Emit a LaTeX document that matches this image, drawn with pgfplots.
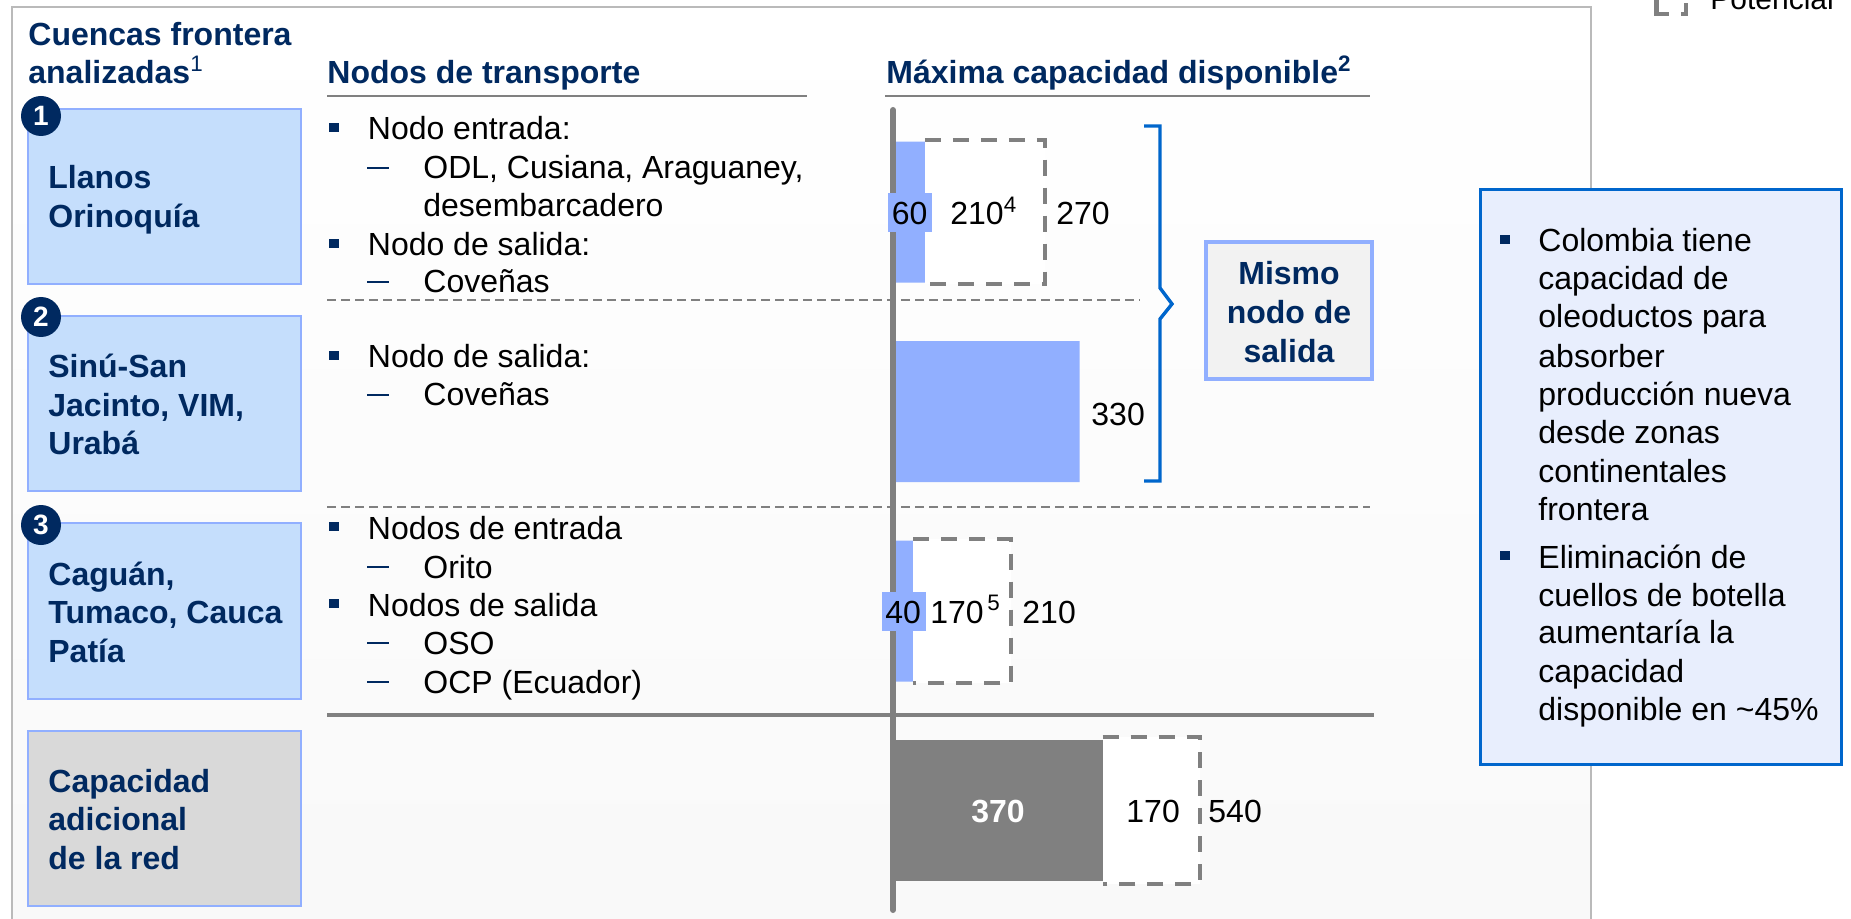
\documentclass[border=0pt]{standalone}
\usepackage{fontspec}
\usepackage{pgfplots}
\pgfplotsset{compat=1.18}
\setmainfont{Liberation Sans}
\definecolor{navy}{RGB}{0,41,96}
\definecolor{barblue}{RGB}{145,175,255}
\definecolor{boxblue}{RGB}{197,222,252}
\definecolor{midgray}{RGB}{128,128,128}
\definecolor{boxgray}{RGB}{217,217,217}
\definecolor{frameblue}{RGB}{0,102,204}
\definecolor{callfill}{RGB}{232,238,253}

% text helpers: x and baseline in picture pixels
\newcommand{\fs}{\fontsize{16}{19.3}\selectfont}
\newcommand{\tb}[3]{\node[anchor=base west,inner sep=0pt,text=navy,font=\fs\bfseries] at (#1,#2) {#3};}
\newcommand{\tn}[3]{\node[anchor=base west,inner sep=0pt,text=black,font=\fs] at (#1,#2) {#3};}
\newcommand{\tc}[3]{\node[anchor=base,inner sep=0pt,text=navy,font=\fs\bfseries] at (#1,#2) {#3};}
\newcommand{\bul}[2]{\fill[navy] (#1,#2-17) rectangle (#1+10,#2-8);}
\newcommand{\das}[2]{\fill[navy] (#1,#2-12) rectangle (#1+22,#2-10);}
\newcommand{\lev}[3]{\bul{329}{#1}\tn{367.5}{#1}{#2}}
\newcommand{\sub}[2]{\das{367}{#1}\tn{423}{#1}{#2}}
\newcommand{\caja}[3]{\draw[barblue,fill=#3,line width=1pt] (28,#1) rectangle (301,#2);}
\newcommand{\badge}[2]{\fill[navy] (41,#1) circle[radius=20];
  \node[text=white,inner sep=0pt,font=\fontsize{14}{14}\selectfont\bfseries] at (41,#1) {#2};}

\begin{document}
\begin{tikzpicture}[x=0.5pt,y=-0.5pt]
\path[use as bounding box,clip] (0,0) rectangle (1851,919);

% panel behind everything
\shade[top color=white,bottom color=white!97.5!black] (12,7) rectangle (1591,930);
\draw[black!27,line width=1pt] (12,930) -- (12,7) -- (1591,7) -- (1591,930);

% bars: x in bpd, y row index
\begin{axis}[
    at={(0pt,-459.5pt)}, anchor=south west,
    scale only axis, width=925.5pt, height=459.5pt,
    axis lines=none,
    xmin=-1554.1, xmax=1676.3,
    y dir=reverse, ymin=-1.0627, ymax=3.5439,
    clip=false,
]
\addplot[xbar,bar width=70.5pt,bar shift=0pt,fill=barblue,draw=none]
    coordinates {(60,0) (330,1) (40,2)};
\addplot[xbar,bar width=70.5pt,bar shift=0pt,fill=midgray,draw=none]
    coordinates {(370,3)};
% potencial, open towards the solid bar
\addplot[midgray,line width=2pt,dash pattern=on 8pt off 6pt,fill=white]
    coordinates {(60,-0.361) (270,-0.361) (270,0.361) (60,0.361)};
\addplot[midgray,line width=2pt,dash pattern=on 8pt off 6pt,fill=white]
    coordinates {(40,1.639) (210,1.639) (210,2.361) (40,2.361)};
\addplot[midgray,line width=2pt,dash pattern=on 8pt off 6pt,fill=white]
    coordinates {(370,2.634) (540,2.634) (540,3.366) (370,3.366)};
\end{axis}

% rules
\draw[midgray,line width=1.3pt] (327,96) -- (807,96);
\draw[midgray,line width=1.3pt] (885,96) -- (1370,96);
\draw[midgray,line width=0.8pt,dash pattern=on 4.5pt off 2.5pt] (327,300) -- (1140,300);
\draw[midgray,line width=0.8pt,dash pattern=on 4.5pt off 2.5pt] (327,507) -- (1370,507);
\draw[midgray,line width=2pt] (327,715) -- (1374,715);
\draw[midgray,line width=3pt,line cap=round] (893,110) -- (893,910);

% left boxes
\caja{109}{284}{boxblue}
\caja{316}{491}{boxblue}
\caja{523}{699}{boxblue}
\caja{731}{906}{boxgray}
\badge{116}{1}
\badge{317}{2}
\badge{525}{3}

% headers
\tb{28}{46}{Cuencas frontera}
\tb{28}{84}{analizadas\textsuperscript{\mdseries 1}}
\tb{327}{84}{Nodos de transporte}
\tb{886}{84}{Máxima capacidad disponible\textsuperscript{2}}

\tb{48}{189}{Llanos}
\tb{48}{228}{Orinoquía}
\tb{48}{378}{Sinú-San}
\tb{48}{416}{Jacinto, VIM,}
\tb{48}{454}{Urabá}
\tb{48}{585}{Caguán,}
\tb{48}{623}{Tumaco, Cauca}
\tb{48}{662}{Patía}
\tb{48}{792}{Capacidad}
\tb{48}{830}{adicional}
\tb{48}{869}{de la red}

% transport nodes
\lev{140}{Nodo entrada:}{}
\sub{179}{ODL, Cusiana, Araguaney,}
\tn{423}{217}{desembarcadero}
\lev{256}{Nodo de salida:}{}
\sub{293}{Coveñas}
\lev{368}{Nodo de salida:}{}
\sub{406}{Coveñas}
\lev{539}{Nodos de entrada}{}
\sub{578}{Orito}
\lev{616}{Nodos de salida}{}
\sub{654}{OSO}
\sub{693}{OCP (Ecuador)}

% value labels
\fill[barblue] (888,193) rectangle (932,232);
\fill[barblue] (882,592) rectangle (926,631);
\tn{891.5}{225}{60}
\tn{950}{225}{210\textsuperscript{4}}
\tn{1056}{225}{270}
\tn{1091}{425}{330}
\tn{885}{623}{40}
\tn{930}{623}{170}
\node[anchor=base west,inner sep=0pt,font=\fs] at (987,623) {\textsuperscript{5}};
\tn{1022}{623}{210}
\node[anchor=base,inner sep=0pt,text=white,font=\fs\bfseries] at (998,822) {370};
\tn{1126}{822}{170}
\tn{1208}{822}{540}

% bracket
\draw[frameblue,line width=1.7pt] (1144,126) -- (1160,126) -- (1160,288) -- (1172,304)
    -- (1160,319) -- (1160,481) -- (1144,481);
\draw[barblue,fill=black!5,line width=1.8pt] (1206,242) rectangle (1372,379);
\tc{1289}{285}{Mismo}
\tc{1289}{324}{nodo de}
\tc{1289}{363}{salida}

% callout
\draw[frameblue,fill=callfill,line width=1.5pt] (1480,190) rectangle (1841,764);
\bul{1499.5}{252}\tn{1538}{252}{Colombia tiene}
\tn{1538}{290}{capacidad de}
\tn{1538}{328}{oleoductos para}
\tn{1538}{367}{absorber}
\tn{1538}{405}{producción nueva}
\tn{1538}{443}{desde zonas}
\tn{1538}{482}{continentales}
\tn{1538}{520}{frontera}
\bul{1499.5}{568}\tn{1538}{568}{Eliminación de}
\tn{1538}{606}{cuellos de botella}
\tn{1538}{643}{aumentaría la}
\tn{1538}{682}{capacidad}
\tn{1538}{720}{disponible en \textasciitilde 45\%}

% legend, cut by the page edge
\draw[midgray,line width=2.2pt] (1656.5,-5) -- (1656.5,14) -- (1669,14);
\draw[midgray,line width=2.2pt] (1681,14) -- (1686,14) -- (1686,3);
\node[anchor=base west,inner sep=0pt,font=\fontsize{15}{18}\selectfont] at (1710,10) {Potencial\textsuperscript{3}};
\end{tikzpicture}
\end{document}
